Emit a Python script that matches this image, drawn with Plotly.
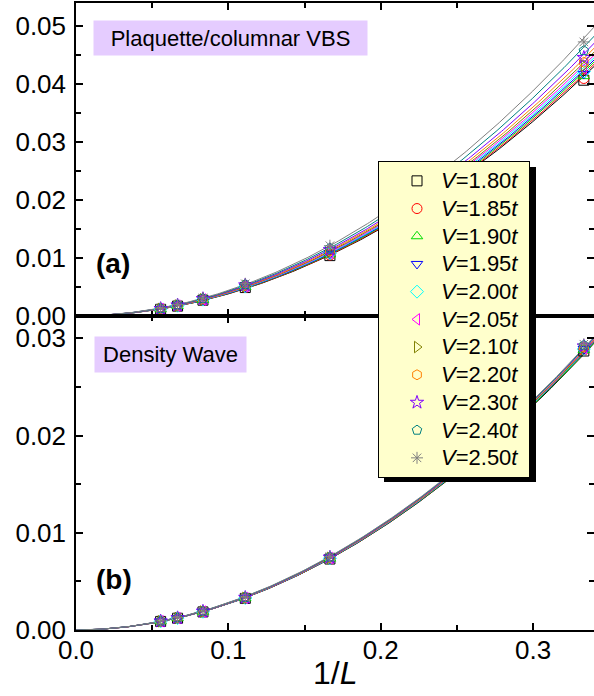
import numpy as np
import plotly.graph_objects as go

# ---------------- data ----------------
L_sizes = [18, 15, 12, 9, 6, 3]
V_values = [1.80, 1.85, 1.90, 1.95, 2.00, 2.05, 2.10, 2.20, 2.30, 2.40, 2.50]

# Plaquette/columnar VBS structure factor, one row per V, columns follow L_sizes
vbs_values = [
    [0.00115, 0.00170, 0.00272, 0.00490, 0.0104, 0.0406],
    [0.00116, 0.00171, 0.00274, 0.00494, 0.0105, 0.0409],
    [0.00117, 0.00173, 0.00276, 0.00498, 0.0106, 0.0413],
    [0.00119, 0.00175, 0.00279, 0.00502, 0.0107, 0.0417],
    [0.00120, 0.00177, 0.00282, 0.00507, 0.0108, 0.0421],
    [0.00122, 0.00179, 0.00285, 0.00512, 0.0109, 0.0426],
    [0.00123, 0.00181, 0.00288, 0.00517, 0.0110, 0.0431],
    [0.00125, 0.00184, 0.00292, 0.00524, 0.0112, 0.0437],
    [0.00127, 0.00187, 0.00297, 0.00532, 0.0114, 0.0445],
    [0.00130, 0.00191, 0.00303, 0.00542, 0.0117, 0.0457],
    [0.00134, 0.00196, 0.00311, 0.00555, 0.0121, 0.0472],
]

# Density wave structure factor
dw_values = [
    [0.00088, 0.00121, 0.00186, 0.00325, 0.00730, 0.0287],
    [0.00088, 0.00121, 0.00187, 0.00326, 0.00732, 0.0288],
    [0.00089, 0.00122, 0.00187, 0.00327, 0.00734, 0.0288],
    [0.00089, 0.00122, 0.00188, 0.00328, 0.00736, 0.0289],
    [0.00089, 0.00123, 0.00188, 0.00329, 0.00738, 0.0289],
    [0.00090, 0.00123, 0.00189, 0.00330, 0.00740, 0.0290],
    [0.00090, 0.00124, 0.00190, 0.00331, 0.00742, 0.0290],
    [0.00091, 0.00124, 0.00191, 0.00333, 0.00745, 0.0291],
    [0.00091, 0.00125, 0.00192, 0.00334, 0.00748, 0.0292],
    [0.00092, 0.00126, 0.00193, 0.00336, 0.00751, 0.0293],
    [0.00093, 0.00127, 0.00194, 0.00338, 0.00755, 0.0294],
]

colors = ["#000000", "#FF0000", "#00DD00", "#0000FF", "#00FFFF", "#FF00FF",
          "#808000", "#FF8000", "#8000FF", "#008080", "#808080"]
symbols = ["square-open", "circle-open", "triangle-up-open", "triangle-down-open",
           "diamond-open", "triangle-left-open", "triangle-right-open",
           "hexagon-open", "star-open", "pentagon-open", "asterisk-open"]

# ---------------- layout geometry (pixels) ----------------
W, H = 594, 696
PL, PR, PT, PB = 76, 594, 3, 630   # plot area edges
MID = 316                           # border between panels


def px(xp):
    return (xp - PL) / (PR - PL)


def py(yp):
    return (PB - yp) / (PB - PT)


FONT = "Arial, Liberation Sans, sans-serif"

x_data = [1.0 / l for l in L_sizes]
x_fit = np.linspace(0.0, 0.36, 300)


def power_fit(xv, yv):
    b, loga = np.polyfit(np.log(xv), np.log(yv), 1)
    return np.exp(loga) * x_fit ** b


fig = go.Figure()

for panel, (vals, xa, ya) in enumerate([(vbs_values, "x", "y"), (dw_values, "x2", "y2")]):
    for i, v in enumerate(V_values):
        fig.add_trace(go.Scatter(
            x=x_fit, y=power_fit(x_data, vals[i]), mode="lines",
            line=dict(color=colors[i], width=1), showlegend=False,
            xaxis=xa, yaxis=ya, hoverinfo="skip"))
    for i, v in enumerate(V_values):
        fig.add_trace(go.Scatter(
            x=x_data, y=vals[i], mode="markers",
            marker=dict(symbol=symbols[i], size=10, color=colors[i],
                        line=dict(color=colors[i], width=1)),
            name=f'<span style="font-size:22px"><i>V</i>={v:.2f}<i>t</i>\u00a0</span>',
            showlegend=(panel == 0),
            xaxis=xa, yaxis=ya))

minor_common = dict(ticks="inside", ticklen=5, tickwidth=1.5, tickcolor="black")
axis_common = dict(
    showline=True, linecolor="black", linewidth=1.5, mirror="ticks",
    ticks="inside", ticklen=7, tickwidth=1.5, tickcolor="black",
    showgrid=False, zeroline=False, automargin=False,
    tickfont=dict(family=FONT, size=26, color="black"),
)

y_top_domain = [py(MID), 1.0]
y_bot_domain = [0.0, py(MID)]

fig.update_layout(
    width=W, height=H,
    margin=dict(l=PL, r=W - PR, t=PT, b=H - PB, autoexpand=False),
    paper_bgcolor="white", plot_bgcolor="white",
    font=dict(family=FONT, color="black"),
    xaxis=dict(axis_common, domain=[0, 1], range=[0, 0.34], dtick=0.1,
               showticklabels=False, anchor="y",
               minor=dict(minor_common, dtick=0.05)),
    yaxis=dict(axis_common, domain=y_top_domain, range=[0, 0.0539], dtick=0.01,
               tickformat=".2f", anchor="x", ticklabelstandoff=3,
               minor=dict(minor_common, dtick=0.005)),
    xaxis2=dict(axis_common, domain=[0, 1], range=[0, 0.34], dtick=0.1,
                tickformat=".1f", anchor="y2", ticklabelstandoff=-4,
                minor=dict(minor_common, dtick=0.05)),
    yaxis2=dict(axis_common, domain=y_bot_domain, range=[0, 0.0323], dtick=0.01,
                tickformat=".2f", anchor="x2", ticklabelstandoff=3,
                minor=dict(minor_common, dtick=0.005)),
    legend=dict(
        x=px(378), y=py(161), xanchor="left", yanchor="top",
        bgcolor="#FFFFCC", bordercolor="black", borderwidth=1,
        font=dict(family=FONT, size=19.0, color="black"),
        itemwidth=38, tracegroupgap=0, indentation=14,
    ),
    showlegend=True,
)

# legend shadow
fig.add_shape(type="rect", xref="paper", yref="paper",
              x0=px(384), x1=px(536), y0=py(482), y1=py(167),
              fillcolor="black", line=dict(width=0), layer="above")

# x-axis title
fig.add_annotation(xref="paper", yref="paper", x=px(335), y=py(673),
                   text="1/<i>L</i>", showarrow=False, xanchor="center", yanchor="middle",
                   font=dict(family=FONT, size=32, color="black"))

# labelled boxes
fig.add_annotation(xref="paper", yref="paper", x=px(230.5), y=py(37.5),
                   text="Plaquette/columnar VBS", showarrow=False,
                   font=dict(family=FONT, size=22, color="black"),
                   bgcolor="#E5CCFF", width=273, height=34, borderpad=0,
                   xanchor="center", yanchor="middle")
fig.add_annotation(xref="paper", yref="paper", x=px(170.5), y=py(354.5),
                   text="Density Wave", showarrow=False,
                   font=dict(family=FONT, size=22, color="black"),
                   bgcolor="#E5CCFF", width=151, height=35, borderpad=0,
                   xanchor="center", yanchor="middle")

# panel labels
fig.add_annotation(xref="paper", yref="paper", x=px(94), y=py(263),
                   text="<b>(a)</b>", showarrow=False, xanchor="left", yanchor="middle",
                   font=dict(family=FONT, size=28, color="black"))
fig.add_annotation(xref="paper", yref="paper", x=px(94), y=py(579),
                   text="<b>(b)</b>", showarrow=False, xanchor="left", yanchor="middle",
                   font=dict(family=FONT, size=28, color="black"))

fig.write_html("out.html", config={"displayModeBar": False},
               post_script="document.body.style.margin='0px';")
